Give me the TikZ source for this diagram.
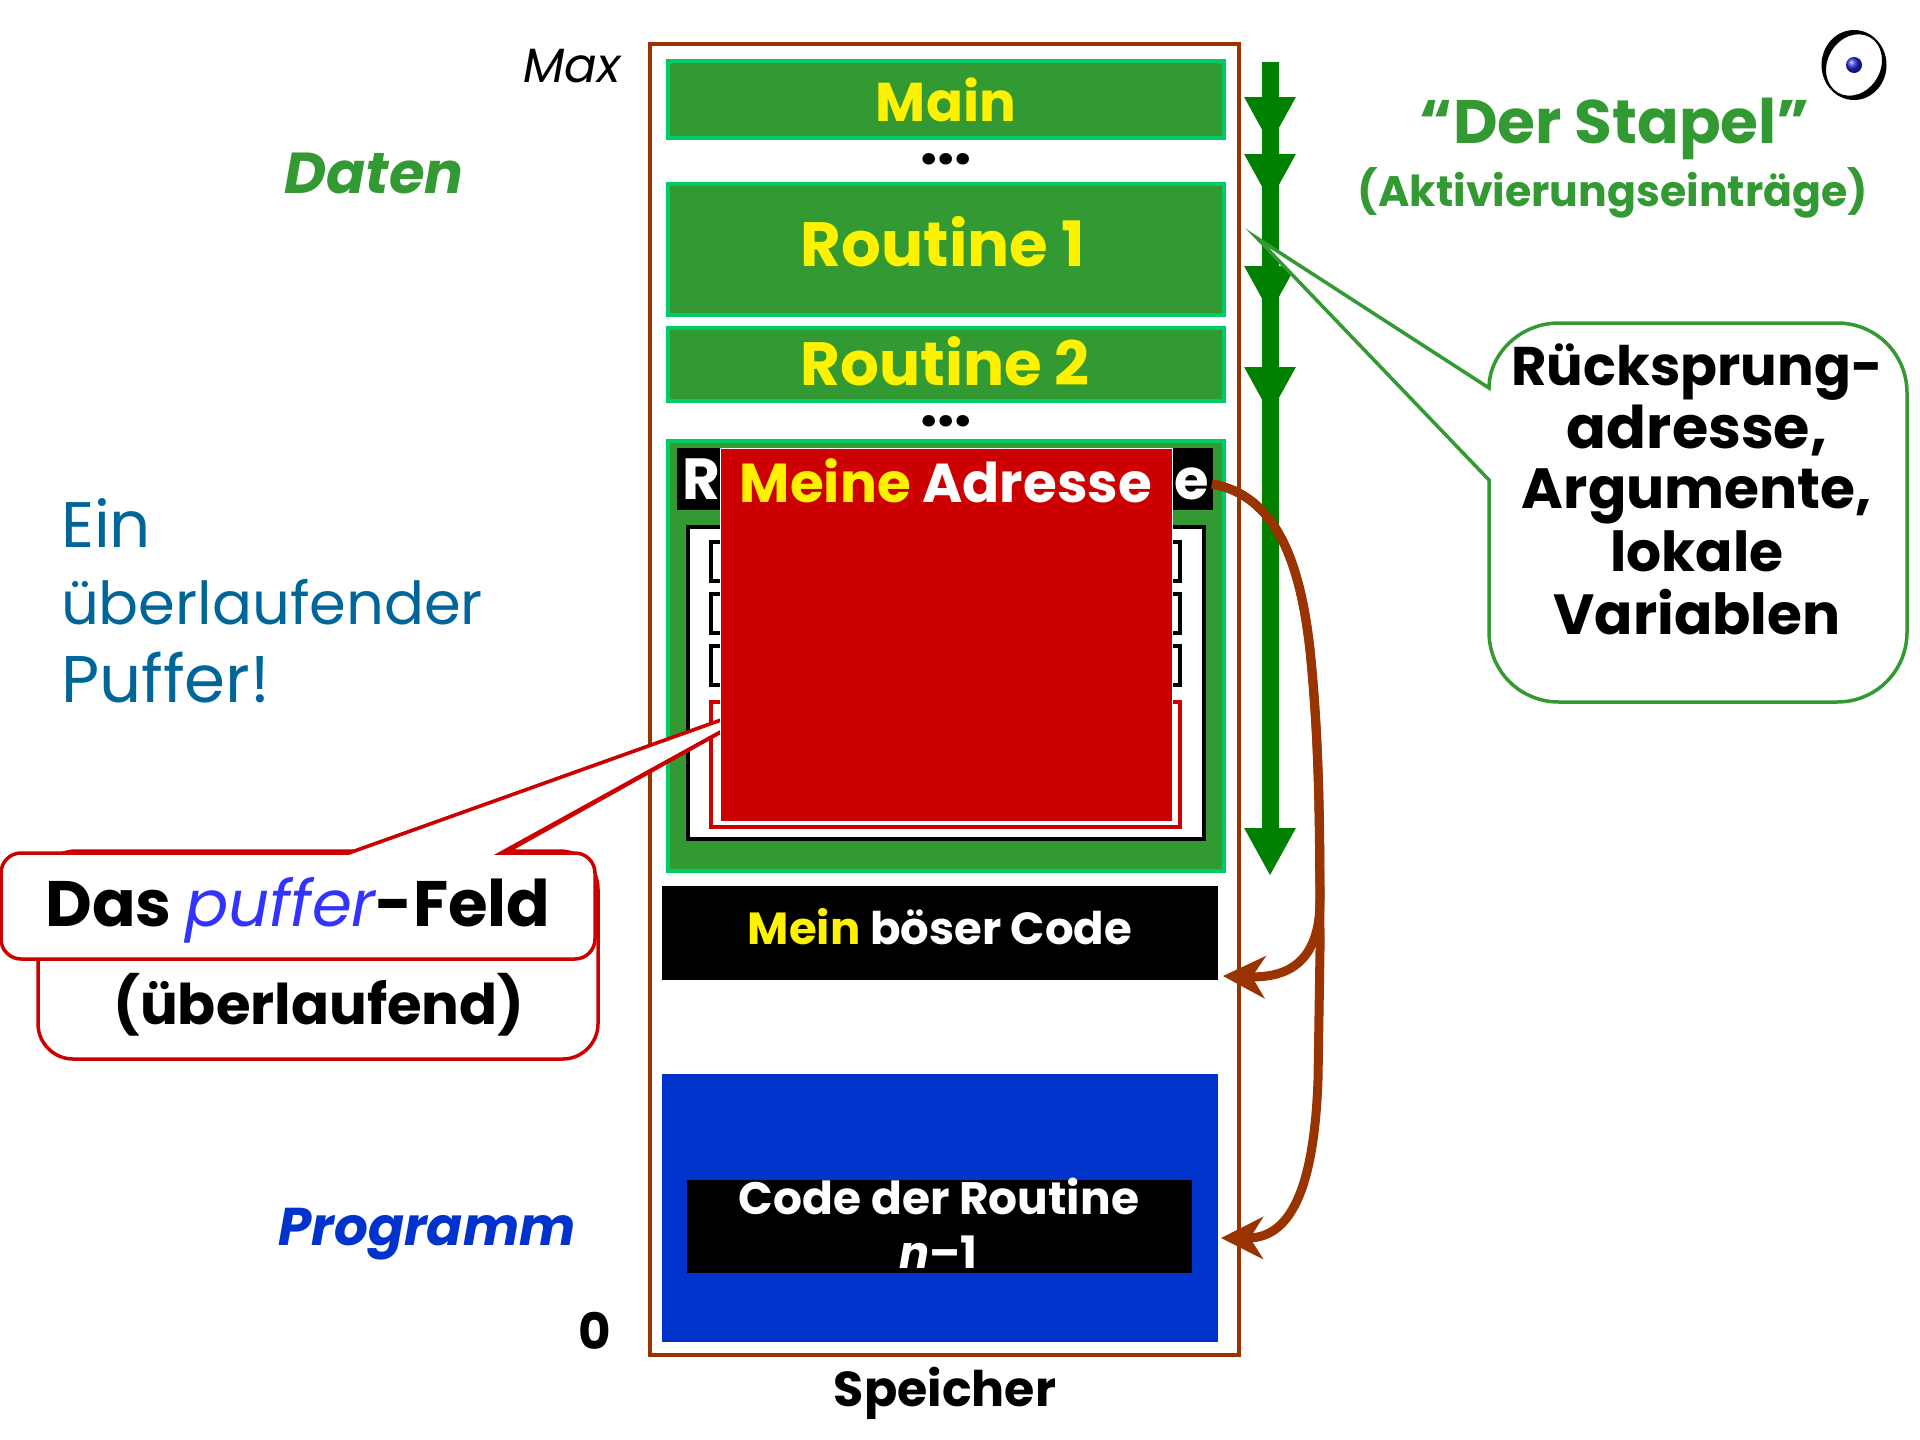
\documentclass[tikz,border=0pt]{standalone}
\usepackage{fontspec}
\usepackage{graphicx}
\setmainfont{Poppins}
\usetikzlibrary{arrows.meta,shapes.geometric}
\definecolor{gfill}{HTML}{339933}
\definecolor{gline}{HTML}{00CC66}
\definecolor{stackg}{HTML}{008000}
\definecolor{brownc}{HTML}{993300}
\definecolor{redc}{HTML}{CC0000}
\definecolor{bluec}{HTML}{0033CC}
\definecolor{tealc}{HTML}{006699}
\definecolor{pufc}{HTML}{3333FF}
\newcommand{\fw}[2]{\resizebox{#1pt}{!}{#2}}
\tikzset{
  x=1pt,y=-1pt,
  lbl/.style={inner sep=0pt,outer sep=0pt,align=center},
  framebox/.style={draw=gline,line width=4pt,fill=gfill},
  rowbox/.style={draw=black,line width=3.5pt,fill=white},
  stackarrow/.style={draw=stackg,line width=17pt,-{Triangle[length=48pt,width=48pt]}},
  brownarrow/.style={draw=brownc,line width=9pt,-{Stealth[length=42pt,width=42pt,inset=13pt]}},
  greencall/.style={draw=gfill,line width=3.5pt,fill=white,line join=miter},
  redcall/.style={draw=redc,line width=3.5pt,fill=white,line join=miter},
}
\begin{document}
\begin{tikzpicture}
\useasboundingbox (0,0) rectangle (1920,1440);
\fill[white] (0,0) rectangle (1920,1440);
% memory
\draw[brownc,line width=4pt] (650,44) rectangle (1239,1355);
\draw[framebox] (668,61) rectangle (1224,138);
\draw[framebox] (668,184) rectangle (1224,315);
\draw[framebox] (668,328) rectangle (1224,401);
\draw[framebox] (668,441) rectangle (1224,871);
\node[lbl] (mainl) at (946,100) {\fw{140}{\bfseries\color{yellow}Main}};
\node[lbl] (r1) at (943,242) {\fw{284}{\bfseries\color{yellow}Routine 1}};
\node[lbl] (r2) at (945,361) {\fw{289}{\bfseries\color{yellow}Routine 2}};
\node[lbl] (dotsa) at (946,159) {\fw{52}{\bfseries ...}};
\node[lbl] (dotsb) at (946,421) {\fw{52}{\bfseries ...}};
% return address strip
\fill[black] (677,448) rectangle (1213,510);
\node[lbl,text=white] (retr) at (701,479) {\fontsize{58}{58}\selectfont\bfseries R};
\node[lbl,text=white,anchor=east] (rets) at (1209,484) {\fontsize{56}{56}\selectfont\bfseries se};
\coordinate (ret) at (1212,484);
% buffer frame
\draw[rowbox,line width=4pt] (688,527) rectangle (1204,839);
\draw[rowbox] (711,542) rectangle (1180,581);
\draw[rowbox] (711,594) rectangle (1180,633);
\draw[rowbox] (711,646) rectangle (1180,685);
\draw[redc,line width=3.5pt] (711,702) rectangle (1180,827);
% evil code and program
\fill[black] (662,886) rectangle (1218,980);
\node[lbl] (evil) at (940,927) {\fw{384}{\bfseries\color{yellow}Mein \color{white}böser Code}};
\fill[bluec] (662,1074) rectangle (1218,1342);
\fill[black] (687,1180) rectangle (1192,1273);
\node[lbl] (code1) at (939,1196) {\fw{400}{\bfseries\color{white}Code der Routine}};
\node[lbl] (code2) at (938,1252) {\fw{78}{\bfseries\color{white}\itshape n\upshape{}–1}};
% stack arrows
\foreach \ty in {145,202,314,415,876} \draw[stackarrow] (1270,62) -- (1270,\ty);
% brown arrows
\coordinate (tipA) at (1223,976);
\coordinate (tipB) at (1221,1238);
\draw[brownarrow] (ret) .. controls (1275,495) and (1300,560) .. (1310,650) .. controls (1318,730) and (1320,800) .. (1320,900) .. controls (1320,960) and (1290,978) .. (tipA);
\draw[brownarrow] (ret) .. controls (1275,495) and (1300,560) .. (1310,650) .. controls (1318,730) and (1320,800) .. (1320,950) -- (1318,1080) .. controls (1314,1190) and (1290,1238) .. (tipB);
% green callout
\coordinate (gtip) at (1257,238);
\draw[greencall] (1489,388) -- (gtip) -- (1489,480) -- (1489,632) .. controls (1489,671) and (1520,702) .. (1559,702) -- (1837,702) .. controls (1876,702) and (1907,671) .. (1907,632) -- (1907,393) .. controls (1907,354) and (1876,323) .. (1837,323) -- (1559,323) .. controls (1520,323) and (1489,354) .. cycle;
\node[lbl] (ca) at (1697,372) {\fw{371}{\bfseries Rücksprung-}};
\node[lbl] (cb) at (1697,431) {\fw{260}{\bfseries adresse,}};
\node[lbl] (cc) at (1697,496) {\fw{350}{\bfseries Argumente,}};
\node[lbl] (cd) at (1697,551) {\fw{173}{\bfseries lokale}};
\node[lbl] (ce) at (1697,612) {\fw{287}{\bfseries Variablen}};
% red callouts
\coordinate (rtip) at (780,699);
\draw[redcall] (355,851) -- (rtip) -- (508,851) -- (560,851) .. controls (581,851) and (598,868) .. (598,889) -- (598,1024) .. controls (598,1043) and (582,1059) .. (563,1059) -- (73,1059) .. controls (54,1059) and (38,1043) .. (38,1024) -- (38,889) .. controls (38,868) and (55,851) .. (76,851) -- cycle;
\draw[redcall] (349,853) -- (rtip) -- (501,853) -- (575,853) .. controls (586,853) and (595,862) .. (595,873) -- (595,939) .. controls (595,950) and (586,959) .. (575,959) -- (21,959) .. controls (10,959) and (1,950) .. (1,939) -- (1,873) .. controls (1,862) and (10,853) .. (21,853) -- cycle;
\node[lbl] (puf) at (298,910) {\fw{505}{\bfseries Das {\color{pufc}\mdseries\itshape puffer}-Feld}};
\node[lbl] (ueb) at (319,1005) {\fw{411}{\bfseries (überlaufend)}};
% overflow block
\draw[white,line width=1pt,fill=redc] (720,448) rectangle (1172,821);
\node[lbl] (meine) at (946,481) {\fw{412}{\bfseries\color{yellow}Meine \color{white}Adresse}};
% labels
\node[lbl,text=gfill] (daten) at (374,173) {\fw{179}{\bfseries\itshape Daten}};
\node[lbl,text=tealc,anchor=west] (l1) at (61,523) {\fw{90}{Ein}};
\node[lbl,text=tealc,anchor=west] (l2) at (61,602) {\fw{422}{überlaufender}};
\node[lbl,text=tealc,anchor=west] (l3) at (61,678) {\fw{209}{Puffer!}};
\node[lbl,text=bluec] (prog) at (427,1234) {\fw{297}{\bfseries\itshape Programm}};
\node[lbl] (maxl) at (572,66) {\fw{97}{\itshape Max}};
\node[lbl] (zero) at (595,1331) {\fontsize{50}{50}\selectfont\bfseries 0};
\node[lbl] (spei) at (945,1393) {\fw{222}{\bfseries Speicher}};
\node[lbl,text=gfill] (stapel) at (1615,129) {\fw{390}{\bfseries “Der Stapel”}};
\node[lbl,text=gfill] (aktiv) at (1613,193) {\fw{510}{\bfseries (Aktivierungseinträge)}};
% eye
\node[ellipse,minimum width=64pt,minimum height=68pt,inner sep=0pt] (eye) at (1854,65) {};
\fill[black,even odd rule] (eye.center) circle[x radius=32.5,y radius=35] (eye.center) circle[x radius=32,y radius=26.5,rotate=60];
\shade[ball color=blue!70!gray] (eye.center) circle[radius=8];
\end{tikzpicture}
\end{document}
